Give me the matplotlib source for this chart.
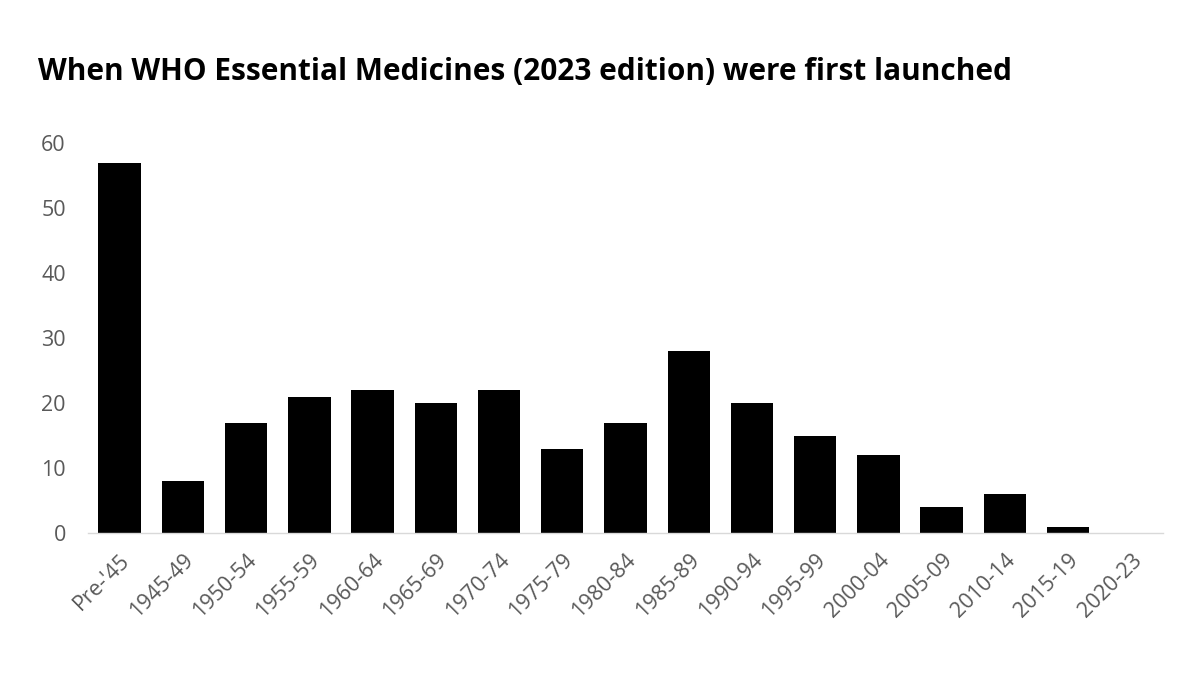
import matplotlib
matplotlib.use('Agg')
import matplotlib.pyplot as plt

categories = ["Pre-'45", '1945-49', '1950-54', '1955-59', '1960-64', '1965-69',
              '1970-74', '1975-79', '1980-84', '1985-89', '1990-94', '1995-99',
              '2000-04', '2005-09', '2010-14', '2015-19', '2020-23']
counts = [57, 8, 17, 21, 22, 20, 22, 13, 17, 28, 20, 15, 12, 4, 6, 1, 0]
yticks = [0, 10, 20, 30, 40, 50, 60]

plt.rcParams['font.family'] = ['Open Sans', 'DejaVu Sans']

fig = plt.figure(figsize=(12, 6.75), dpi=100)
ax = fig.add_axes([88 / 1200, 1 - 533 / 675, (1163 - 88) / 1200, (533 - 143) / 675])

x = list(range(len(categories)))
ax.bar(x, counts, width=0.67, color='black')

ax.set_xlim(-0.5, len(categories) - 0.5)
ax.set_ylim(0, 60)
ax.set_yticks(yticks)
ax.set_xticks(x)
ax.set_xticklabels(categories, rotation=45, ha='right', rotation_mode='anchor',
                   fontsize=15.5, color='#595959')
ax.tick_params(axis='y', labelsize=15.5, labelcolor='#595959', length=0, pad=16)
ax.tick_params(axis='x', length=0, pad=12)

for s in ['top', 'right', 'left']:
    ax.spines[s].set_visible(False)
ax.spines['bottom'].set_color('#d9d9d9')
ax.spines['bottom'].set_linewidth(1)

fig.text(38 / 1200, 1 - 80 / 675, 'When WHO Essential Medicines (2023 edition) were first launched',
         fontsize=21.4, fontweight='bold', ha='left', va='baseline', color='black')

fig.savefig('out.png', dpi=100)
